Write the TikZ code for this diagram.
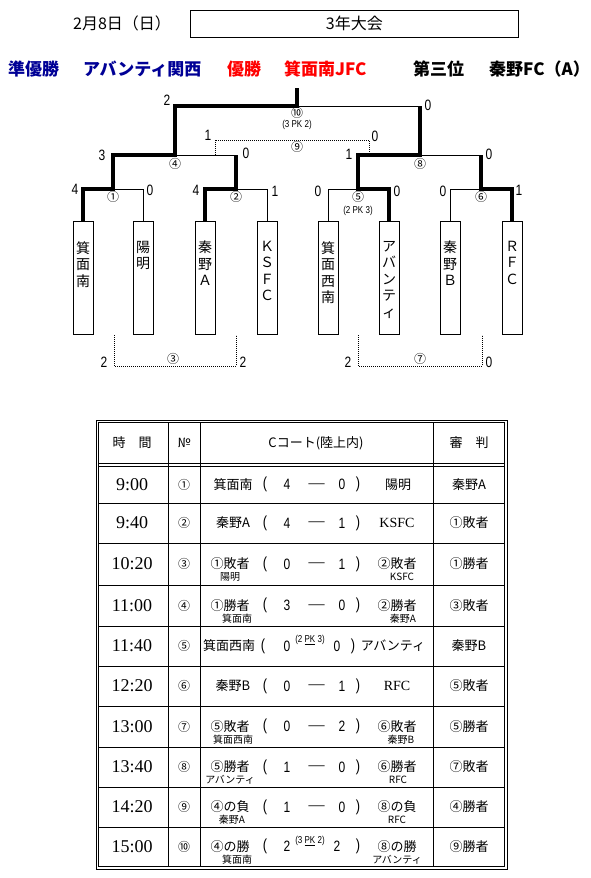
\documentclass[tikz,border=0pt]{standalone}
\usepackage{fontspec}
\setmainfont{Noto Sans CJK JP}
\newfontfamily\jp{Noto Sans CJK JP}
\newfontfamily\nar[FakeStretch=0.8]{Liberation Sans}
\newfontfamily\ser{Liberation Serif}
\definecolor{navyb}{RGB}{0,0,150}
\definecolor{redw}{RGB}{255,0,0}
\begin{document}
\begin{tikzpicture}[x=1pt,y=-1pt,
  thk/.style={line width=3.6pt},
  thn/.style={line width=0.8pt},
  dotln/.style={line width=0.8pt, dash pattern=on 0.8pt off 1.2pt},
  team/.style={draw, line width=0.8pt, minimum width=20pt, minimum height=113pt, inner sep=0, anchor=north},
  vtxt/.style={anchor=north, align=center, inner sep=0, font=\jp\fontsize{14}{16.5}\selectfont},
  sc/.style={font=\nar\fontsize{15}{15}\selectfont, inner sep=0},
  cn/.style={font=\jp\fontsize{12}{12}\selectfont, inner sep=0},
  pk/.style={font=\nar\fontsize{10}{10}\selectfont, inner sep=0},
  hdr/.style={font=\jp\fontsize{16}{16}\selectfont, inner sep=0},
  big/.style={font=\jp\bfseries\fontsize{17}{17}\selectfont, inner sep=0, anchor=west},
  th/.style={font=\jp\fontsize{13}{13}\selectfont, inner sep=0},
  tm/.style={font=\ser\fontsize{18}{18}\selectfont, inner sep=0},
  mt/.style={font=\jp\fontsize{13}{13}\selectfont, inner sep=0},
  mts/.style={font=\ser\fontsize{14}{14}\selectfont, inner sep=0},
  sb/.style={font=\jp\fontsize{10}{10}\selectfont, inner sep=0},
  dsh/.style={font=\jp\fontsize{19}{19}\selectfont, inner sep=0},
  par/.style={font=\nar\fontsize{16}{16}\selectfont, inner sep=0}
]
\useasboundingbox (0,0) rectangle (590,878);
\fill[white] (0,0) rectangle (590,878);

% ---------- header ----------
\node[hdr] (date) at (122,23) {2月8日（日）};
\node[draw, line width=0.8pt, minimum width=328pt, minimum height=27pt, inner sep=0,
      anchor=north west, font=\jp\fontsize{16}{16}\selectfont] (title) at (190,10) {3年大会};

\node[big, text=navyb] (ru1) at (8,69) {準優勝};
\node[big, text=navyb] (ru2) at (83,69) {アバンティ関西};
\node[big, text=redw] (wi1) at (227,69) {優勝};
\node[big, text=redw] (wi2) at (284,69) {箕面南JFC};
\node[big] (th1) at (413,69) {第三位};
\node[big] (th2) at (489,69) {秦野FC（A）};

% ---------- team boxes ----------
\node[team] (t1) at (83,221) {};
\node[team] (t2) at (143,221) {};
\node[team] (t3) at (205,221) {};
\node[team] (t4) at (267,221) {};
\node[team] (t5) at (328,221) {};
\node[team] (t6) at (389,221) {};
\node[team] (t7) at (450,221) {};
\node[team] (t8) at (512,221) {};
\node[vtxt] (n1) at (83,241) {箕\\面\\南};
\node[vtxt] (n2) at (143,241) {陽\\明};
\node[vtxt] (n3) at (205,241) {秦\\野\\Ａ};
\node[vtxt] (n4) at (267,241) {Ｋ\\Ｓ\\Ｆ\\Ｃ};
\node[vtxt] (n5) at (328,241) {箕\\面\\西\\南};
\node[vtxt] (n6) at (389,241) {ア\\バ\\ン\\テ\\ィ};
\node[vtxt] (n7) at (450,241) {秦\\野\\Ｂ};
\node[vtxt] (n8) at (512,241) {Ｒ\\Ｆ\\Ｃ};

% ---------- bracket ----------
\coordinate (m1) at (113,189);
\coordinate (m2) at (236,189);
\coordinate (m5) at (358,189);
\coordinate (m6) at (481,189);
\coordinate (m4) at (175,155);
\coordinate (m8) at (420,155);
\coordinate (m10) at (297,106);
\coordinate (champ) at (297,88);

\draw[thn] (m1) -| (t2.north);
\draw[thn] (m2) -| (t4.north);
\draw[thn] (m4) -- (m2 |- m4);
\draw[thn] (t5.north) |- (m5);
\draw[thn] (t7.north) |- (m6);
\draw[thn] (m8) -- (m6 |- m8);
\draw[thn] (m10) -- (m8 |- m10);

\draw[thk] (t1.north) |- (m1) |- (m4) |- (m10) -- (champ);
\draw[thk] (t3.north) |- (m2) -- (m2 |- m4);
\draw[thk] (t6.north) |- (m5) |- (m8) -- (m8 |- m10);
\draw[thk] (t8.north) |- (m6) -- (m6 |- m8);

% consolation / third place (dotted)
\coordinate (l9) at (215,155);
\coordinate (r9) at (369,155);
\draw[dotln] (l9) -- ++(0,-15) -| (r9);
\coordinate (l3) at (114,335);
\coordinate (r3) at (236,335);
\draw[dotln] (l3) -- ++(0,31) -| (r3);
\coordinate (l7) at (358,335);
\coordinate (r7) at (482,335);
\draw[dotln] (l7) -- ++(0,31) -| (r7);

% bracket scores
\node[sc] (s10a) at (167,100) {2};
\node[sc] (s10b) at (428,105) {0};
\node[cn] (c10) at (297,112.5) {⑩};
\node[pk] (p10) at (297,125) {(3 PK 2)};
\node[sc] (s9a) at (208,135) {1};
\node[sc] (s9b) at (375,136) {0};
\node[cn] (c9) at (297,147) {⑨};
\node[sc] (s4a) at (102,155) {3};
\node[sc] (s4b) at (246,153) {0};
\node[cn] (c4) at (175,164) {④};
\node[sc] (s8a) at (349,154) {1};
\node[sc] (s8b) at (489,154) {0};
\node[cn] (c8) at (420,164) {⑧};
\node[sc] (s1a) at (75,189) {4};
\node[sc] (s1b) at (150,190) {0};
\node[cn] (c1) at (113,197) {①};
\node[sc] (s2a) at (196,190) {4};
\node[sc] (s2b) at (275,191) {1};
\node[cn] (c2) at (236,197) {②};
\node[sc] (s5a) at (318,191) {0};
\node[sc] (s5b) at (397,191) {0};
\node[cn] (c5) at (358,197) {⑤};
\node[pk] (p5) at (358,211) {(2 PK 3)};
\node[sc] (s6a) at (443,191) {0};
\node[sc] (s6b) at (519,190) {1};
\node[cn] (c6) at (481,197) {⑥};
\node[sc] (s3a) at (104,362) {2};
\node[sc] (s3b) at (243,362) {2};
\node[cn] (c3) at (173,359) {③};
\node[sc] (s7a) at (348,362) {2};
\node[sc] (s7b) at (489,362) {0};
\node[cn] (c7) at (420,359) {⑦};

% ---------- table ----------
\draw[thn] (96,420) rectangle (507,869);
\draw[thn] (98.5,422.5) rectangle (504.5,866.5);
\draw[thn] (98.5,463) -- (504.5,463);
\draw[thn] (98.5,466) -- (504.5,466);
\foreach \cx in {168,200,433} \draw[thn] (\cx,422.5) -- (\cx,866.5);
\foreach \ry in {503,543,585,626,666,706,747,787,827} \draw[thn] (98.5,\ry) -- (504.5,\ry);

\node[th] (h1) at (132,443) {時　間};
\node[th] (h2) at (184,443) {№};
\node[th] (h3) at (316,443) {Cコート(陸上内)};
\node[th] (h4) at (469,443) {審　判};

\foreach \y/\t/\n/\r [count=\i] in {484.5/9:00/①/秦野A, 523/9:40/②/①敗者, 564/10:20/③/①勝者,
   605.5/11:00/④/③敗者, 646/11:40/⑤/秦野B, 686/12:20/⑥/⑤敗者, 726.5/13:00/⑦/⑤勝者,
   767/13:40/⑧/⑦敗者, 807/14:20/⑨/④勝者, 846.5/15:00/⑩/⑨勝者} {
  \node[tm] (tm\i) at (132,\y) {\t};
  \node[cn] (no\i) at (184,\y) {\n};
  \node[mt] (rf\i) at (469,\y) {\r};
}

% scores in table
\foreach \y/\p/\q [count=\i] in {484.5/4/0, 523/4/1, 564/0/1, 605.5/3/0, 686/0/1, 726.5/0/2, 767/1/0, 807/1/0} {
  \node[par] (lp\i) at (265,\y) {(};
  \node[sc] (sa\i) at (287,\y) {\p};
  \node[dsh] (ds\i) at (317,\y+3) {―};
  \node[sc] (sq\i) at (342,\y) {\q};
  \node[par] (rp\i) at (358,\y) {)};
}
% PK rows
\node[par] (lpA) at (263,646) {(};
\node[sc] (saA) at (287,646) {0};
\node[pk] (pkA) at (310,640) {(2 \underline{PK} 3)};
\node[sc] (sqA) at (337,646) {0};
\node[par] (rpA) at (353,646) {)};
\node[par] (lpB) at (265,846.5) {(};
\node[sc] (saB) at (287,846.5) {2};
\node[pk] (pkB) at (310,841) {(3 \underline{PK} 2)};
\node[sc] (sqB) at (337,846.5) {2};
\node[par] (rpB) at (358,846.5) {)};

% teams in table
\node[mt] (L1) at (233,484.5) {箕面南};
\node[mt] (R1) at (398,484.5) {陽明};
\node[mt] (L2) at (233,523) {秦野A};
\node[mts] (R2) at (397,523) {KSFC};
\node[mt] (L3) at (230,564) {①敗者};
\node[sb] (L3s) at (230,577) {陽明};
\node[mt] (R3) at (397,564) {②敗者};
\node[sb] (R3s) at (402,577) {KSFC};
\node[mt] (L4) at (230,605.5) {①勝者};
\node[sb] (L4s) at (237,618.5) {箕面南};
\node[mt] (R4) at (397,605.5) {②勝者};
\node[sb] (R4s) at (403,618.5) {秦野A};
\node[mt] (L5) at (229,646) {箕面西南};
\node[mt] (R5) at (393,646) {アバンティ};
\node[mt] (L6) at (233,686) {秦野B};
\node[mts] (R6) at (397,686) {RFC};
\node[mt] (L7) at (230,726.5) {⑤敗者};
\node[sb] (L7s) at (233,739.5) {箕面西南};
\node[mt] (R7) at (397,726.5) {⑥敗者};
\node[sb] (R7s) at (401,739.5) {秦野B};
\node[mt] (L8) at (230,767) {⑤勝者};
\node[sb] (L8s) at (230,780) {アバンティ};
\node[mt] (R8) at (397,767) {⑥勝者};
\node[sb] (R8s) at (398,780) {RFC};
\node[mt] (L9) at (230,807) {④の負};
\node[sb] (L9s) at (232,820) {秦野A};
\node[mt] (R9) at (397,807) {⑧の負};
\node[sb] (R9s) at (397,820) {RFC};
\node[mt] (L10) at (230,846.5) {④の勝};
\node[sb] (L10s) at (237,859.5) {箕面南};
\node[mt] (R10) at (397,846.5) {⑧の勝};
\node[sb] (R10s) at (397,859.5) {アバンティ};
\end{tikzpicture}
\end{document}
